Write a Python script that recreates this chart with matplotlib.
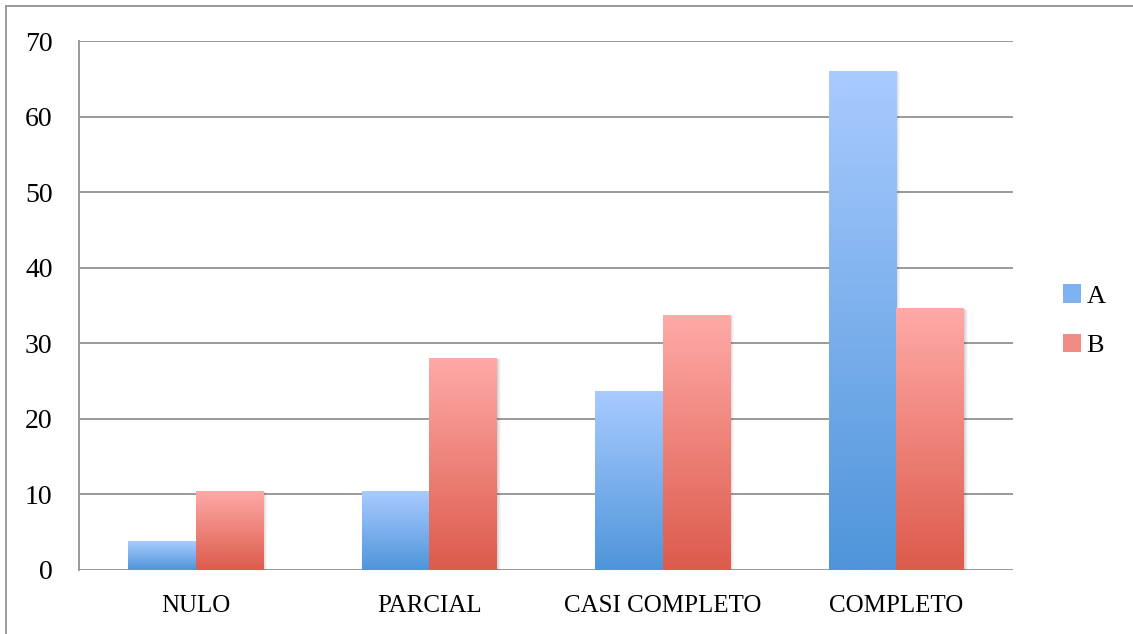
import matplotlib.pyplot as plt
import numpy as np
from matplotlib.colors import LinearSegmentedColormap
from matplotlib.patches import Patch, Rectangle
from matplotlib.lines import Line2D

categorias = ['NULO', 'PARCIAL', 'CASI COMPLETO', 'COMPLETO']
serie_a = [3.8, 10.4, 23.6, 66.0]
serie_b = [10.4, 28.0, 33.7, 34.6]
etiquetas = ['A', 'B']

# degradados: (arriba, abajo)
grad_a = ('#a9cbff', '#4f95da')
grad_b = ('#ffaaa7', '#dc5b4c')

plt.rcParams['font.family'] = ['Liberation Serif', 'DejaVu Serif']

fig = plt.figure(figsize=(11.33, 6.34), dpi=100)
ax = fig.add_axes([0.0697, 0.101, 0.8245, 0.834])

# marco exterior (solo se ven el borde superior y el izquierdo)
gris_marco = '#9a9a9a'
fig.add_artist(Line2D([6 / 1133, 6 / 1133], [0, 628 / 634], transform=fig.transFigure,
                      color=gris_marco, linewidth=1.4))
fig.add_artist(Line2D([6 / 1133, 1], [628 / 634, 628 / 634], transform=fig.transFigure,
                      color=gris_marco, linewidth=1.4))

x = np.arange(len(categorias))
w = 0.289

def barras_degradado(pos, valores, colores):
    cmap = LinearSegmentedColormap.from_list('g', [colores[1], colores[0]])
    bars = ax.bar(pos, valores, w, facecolor='none', edgecolor='none', zorder=3)
    grad = np.linspace(0, 1, 256).reshape(-1, 1)
    for b in bars:
        x0, y0, bw, bh = b.get_x(), b.get_y(), b.get_width(), b.get_height()
        # sombra suave
        for k, a in enumerate([0.06, 0.05, 0.04, 0.03]):
            d = 0.004 * (k + 1)
            ax.add_patch(Rectangle((x0 + d, y0 - d * 8), bw, bh, facecolor='black',
                                   alpha=a, edgecolor='none', zorder=2))
        ax.imshow(grad, extent=(x0, x0 + bw, y0, y0 + bh), origin='lower',
                  cmap=cmap, aspect='auto', zorder=3, interpolation='bilinear')
    return bars

barras_degradado(x - w / 2, serie_a, grad_a)
barras_degradado(x + w / 2, serie_b, grad_b)

ax.set_xlim(-0.5, len(categorias) - 0.5)
ax.set_ylim(0, 70)
ax.set_yticks(range(0, 71, 10))
ax.set_xticks(x)
ax.set_xticklabels(categorias)
ax.yaxis.grid(True, color=gris_marco, linewidth=1.4)
ax.set_axisbelow(True)
ax.tick_params(axis='both', length=0)
ax.tick_params(axis='y', pad=19, labelsize=20)
ax.tick_params(axis='x', pad=18, labelsize=18)
for s in ['top', 'right', 'bottom']:
    ax.spines[s].set_visible(False)
ax.spines['left'].set_color(gris_marco)
ax.spines['left'].set_linewidth(1.4)

handles = [Patch(facecolor='#7fb2f0', label=etiquetas[0]),
           Patch(facecolor='#f28b85', label=etiquetas[1])]
fig.legend(handles=handles, loc='center left', bbox_to_anchor=(0.917, 0.494),
           frameon=False, fontsize=19, handlelength=0.7, handleheight=0.7,
           handletextpad=0.2, labelspacing=1.0)

fig.savefig('out.png', dpi=100)
